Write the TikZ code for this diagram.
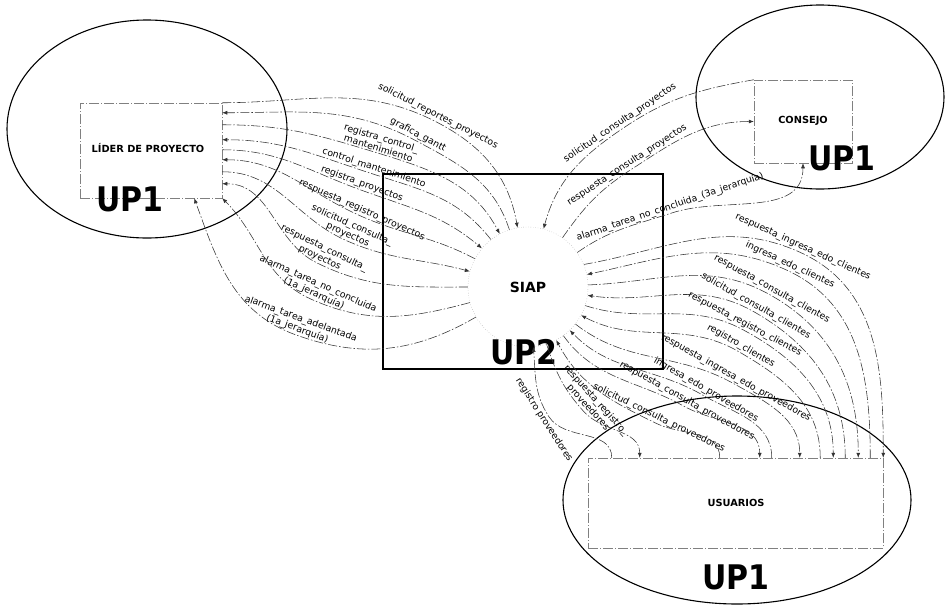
\documentclass[tikz,border=0pt]{standalone}
\usepackage{fontspec}
\usepackage{graphicx}
\setmainfont{DejaVu Sans}
\usetikzlibrary{arrows.meta,shapes.geometric,calc}
\newcommand{\uplabel}[1]{\scalebox{1}[1.13]{#1}}
\begin{document}
\begin{tikzpicture}[x=1pt,y=-1pt,
  flow/.style={line width=0.55pt, black!80, dash pattern=on 9pt off 2pt on 1.5pt off 2pt},
  tip/.style={-{Latex[length=5pt,width=4pt]}},
  lbl/.style={font=\fontsize{9.3}{10.5}\selectfont, inner sep=1.2pt, align=center},
  ent/.style={font=\bfseries\fontsize{9.8}{12}\selectfont},
  up/.style={font=\bfseries\fontsize{30}{32}\selectfont, inner sep=0pt},
  zone/.style={draw, ellipse, line width=1.1pt, inner sep=0pt},
  ebox/.style={draw, black!50, line width=0.5pt, dash pattern=on 10pt off 2pt on 1pt off 2pt, inner sep=0pt}
]
\fill[white] (0,0) rectangle (946,606);
\useasboundingbox (0,0) rectangle (946,606);

% zones
\node[zone, minimum width=280pt, minimum height=218pt] (zl) at (147,129) {};
\node[zone, minimum width=248pt, minimum height=184pt] (zc) at (820,97) {};
\node[zone, minimum width=348pt, minimum height=208pt] (zu) at (737,500) {};
\node[draw, line width=1.3pt, minimum width=280pt, minimum height=195pt, inner sep=0pt] (zs) at (523,271.5) {};

% entities
\node[ebox, minimum width=142pt, minimum height=95pt] (lider) at (151,150.5) {};
\node[ent] (lidert) at (148,148) {LÍDER DE PROYECTO};
\node[ebox, minimum width=98pt, minimum height=83pt] (consejo) at (803,121.5) {};
\node[ent] (consejot) at (803,121) {CONSEJO};
\node[ebox, minimum width=295pt, minimum height=90pt] (usuarios) at (735.5,503) {};
\node[ent] (usuariost) at (736,503) {USUARIOS};
\node[draw, circle, dotted, black!45, minimum size=120pt, inner sep=0pt, text=black, font=\bfseries\fontsize{14}{16}\selectfont] (siap) at (528,287) {SIAP};

% UP labels
\node[up] (up1a) at (130,199) {\uplabel{UP1}};
\node[up] (up1b) at (842,158) {\uplabel{UP1}};
\node[up] (up2) at (524,352) {\uplabel{UP2}};
\node[up] (up1c) at (736,577) {\uplabel{UP1}};

% labels left
\node[lbl, rotate=-27] (l1) at (438,116) {solicitud\_reportes\_proyectos};
\node[lbl, rotate=-28] (l2) at (418,135) {grafica\_gantt};
\node[lbl, rotate=-17] (l3) at (380,143) {registra\_control\_\\mantenimiento};
\node[lbl, rotate=-18] (l4) at (374,168) {control\_mantenimiento};
\node[lbl, rotate=-20] (l5) at (362,184) {registra\_proyectos};
\node[lbl, rotate=-24] (l6) at (362,210) {respuesta\_registro\_proyectos};
\node[lbl, rotate=-24] (l7) at (350,230) {solicitud\_consulta\_\\proyectos};
\node[lbl, rotate=-26] (l8) at (322,253) {respuesta\_consulta\_\\proyectos};
\node[lbl, rotate=-24] (l9) at (316,289) {alarma\_tarea\_no\_concluida\\(1a\_jerarquía)};
\node[lbl, rotate=-20] (l10) at (299,324) {alarma\_tarea\_adelantada\\(1a\_jerarquía)};

% labels consejo
\node[lbl, rotate=34] (r1) at (620,123) {solicitud\_consulta\_proyectos};
\node[lbl, rotate=33] (r2) at (627,165) {respuesta\_consulta\_proyectos};
\node[lbl, rotate=18.5] (r3) at (670,207) {alarma\_tarea\_no\_concluida\_(3a\_jerarquía)};

% labels clientes
\node[lbl, rotate=-24.5] (c1) at (803,247) {respuesta\_ingresa\_edo\_clientes};
\node[lbl, rotate=-25] (c2) at (790,265) {ingresa\_edo\_clientes};
\node[lbl, rotate=-29] (c3) at (772,289) {respuesta\_consulta\_clientes};
\node[lbl, rotate=-29.5] (c4) at (756,306) {solicitud\_consulta\_clientes};
\node[lbl, rotate=-28] (c5) at (745,324) {respuesta\_registro\_clientes};
\node[lbl, rotate=-30] (c6) at (741,346) {registro\_clientes};

% labels proveedores
\node[lbl, rotate=-29] (p1) at (736,378) {respuesta\_ingresa\_edo\_proveedores};
\node[lbl, rotate=-30] (p2) at (706,390) {ingresa\_edo\_proveedores};
\node[lbl, rotate=-29] (p3) at (687,401) {respuesta\_consulta\_proveedores};
\node[lbl, rotate=-26] (p4) at (659,418) {solicitud\_consulta\_proveedores};
\node[lbl, rotate=-48] (p5) at (592,404) {respuesta\_registro\_\\proveedores};
\node[lbl, rotate=-57] (p6) at (544,420) {registro proveedores};

% flows left
\draw[flow,tip] (lider.north east) to[out=0,in=153] (l1.south) to[out=-27,in=100] (siap.100);
\draw[flow,tip] (siap.108) to[out=108,in=-28] (l2.south) to[out=152,in=0] ($(lider.north east)+(0,10)$);
\draw[flow,tip] ($(lider.north east)+(0,22)$) to[out=0,in=163] (l3.south) to[out=-17,in=118] (siap.118);
\draw[flow,tip] (siap.128) to[out=128,in=-18] (l4.south) to[out=162,in=0] ($(lider.north east)+(0,37)$);
\draw[flow,tip] ($(lider.north east)+(0,47)$) to[out=0,in=160] (l5.south) to[out=-20,in=140] (siap.140);
\draw[flow,tip] (siap.152) to[out=152,in=-24] (l6.south) to[out=156,in=0] ($(lider.north east)+(0,57)$);
\draw[flow,tip] ($(lider.north east)+(0,69)$) to[out=0,in=156] (l7.south) to[out=-24,in=165] (siap.165);
\draw[flow,tip] (siap.180) to[out=180,in=-26] (l8.south) to[out=154,in=0] ($(lider.north east)+(0,81)$);
\draw[flow,tip] (siap.195) to[out=195,in=-24] (l9.south) to[out=156,in=-45] (lider.south east);
\draw[flow,tip] (siap.210) to[out=210,in=-20] (l10.south) to[out=160,in=-70] ($(lider.south east)+(-28,0)$);

% flows consejo
\draw[flow,tip] (consejo.north west) to[out=190,in=34] (r1.south) to[out=214,in=75] (siap.75);
\draw[flow,tip] (siap.55) to[out=55,in=213] (r2.south) to[out=33,in=180] (consejo.west);
\draw[flow,tip] (siap.35) to[out=35,in=198] (r3.south) to[out=18,in=-90] (consejo.south);

% flows clientes
\draw[flow,tip] (siap.22) to[out=10,in=155.5] (c1.south) to[out=-24.5,in=90] (usuarios.north east);
\draw[flow,tip] ($(usuarios.north east)+(-13,0)$) to[out=90,in=-25] (c2.south) to[out=155,in=12] (siap.12);
\draw[flow,tip] (siap.2) to[out=2,in=151] (c3.south) to[out=-29,in=90] ($(usuarios.north east)+(-25,0)$);
\draw[flow,tip] ($(usuarios.north east)+(-38,0)$) to[out=90,in=-29.5] (c4.south) to[out=150.5,in=-8] (siap.-8);
\draw[flow,tip] (siap.-18) to[out=-18,in=152] (c5.south) to[out=-28,in=90] ($(usuarios.north east)+(-50,0)$);
\draw[flow,tip] ($(usuarios.north east)+(-63,0)$) to[out=90,in=-30] (c6.south) to[out=150,in=-28] (siap.-28);

% flows proveedores
\draw[flow,tip] (siap.-38) to[out=-38,in=151] (p1.south) to[out=-29,in=90] ($(usuarios.north west)+(212,0)$);
\draw[flow,tip] ($(usuarios.north west)+(184,0)$) to[out=90,in=-30] (p2.south) to[out=150,in=-46] (siap.-46);
\draw[flow,tip] (siap.-54) to[out=-54,in=151] (p3.south) to[out=-29,in=90] ($(usuarios.north west)+(172,0)$);
\draw[flow,tip] ($(usuarios.north west)+(132,0)$) to[out=90,in=-26] (p4.south) to[out=154,in=-62] (siap.-62);
\draw[flow,tip] (siap.-72) to[out=-72,in=132] (p5.south) to[out=-48,in=90] ($(usuarios.north west)+(52,0)$);
\draw[flow,tip] ($(usuarios.north west)+(24,0)$) to[out=90,in=-57] (p6.north) to[out=123,in=-85] (siap.-85);
\end{tikzpicture}
\end{document}
